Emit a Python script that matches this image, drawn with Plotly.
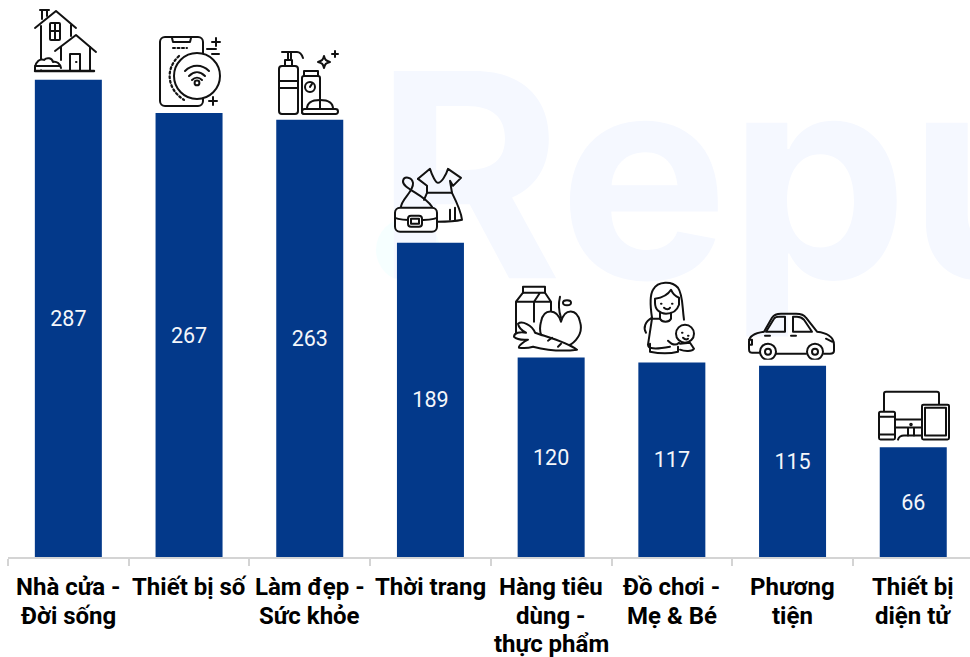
import base64
import plotly.graph_objects as go

categories = ["Nhà cửa -<br>Đời sống", "Thiết bị số", "Làm đẹp -<br>Sức khỏe", "Thời trang",
              "Hàng tiêu<br>dùng -<br>thực phẩm", "Đồ chơi -<br>Mẹ & Bé", "Phương<br>tiện", "Thiết bị<br>diện tử"]
values = [287, 267, 263, 189, 120, 117, 115, 66]

W, H = 970, 657
L, R_EDGE, BASE = 8, 970, 557.5
PX_PER_UNIT = 1.664
BAND = 120.7
LABEL_LINE = 28.5

# Decorative line icons, drawn in page-pixel space: (x0, y0, w, h, svg body)
ICONS = [
 (30, 6, 70, 70, '''
  <path d="M40 10h9M42 11v8M47 11v5"/>
  <path d="M35 28 56 11 76 28"/>
  <path d="M41 26V70M71 25V36"/>
  <rect x="50" y="23" width="10" height="17" rx="1"/><path d="M55 23V40M50 31H60"/>
  <path d="M55 51 76 35 96 52"/>
  <path d="M90 47V70M61 47V60"/>
  <path d="M70 70V54H80V70M76 62h.5"/>
  <path d="M35 70V67C36 62 40 58 44 60C47 57 52 58 53 62C57 61 60 64 61 68" fill="#fff"/>
  <path d="M35 66H60"/>
  <path d="M35 71H94" stroke-width="2.4"/>'''),
 (155, 33, 70, 76, '''
  <rect x="160" y="37" width="43" height="69" rx="5"/>
  <path d="M172 38 173 42H190L191 38"/>
  <path d="M173 48H187" stroke-dasharray="2 2.5"/>
  <path d="M179 56C164 70 168 90 184 100" stroke-dasharray="2 2.6" stroke-width="2.2"/>
  <circle cx="197" cy="76" r="23" fill="#fff"/>
  <path d="M185 71C192 64 202 64 209 71M189 76C194 71 200 71 205 76M192 80C195 77 199 77 202 80"/>
  <circle cx="197" cy="83" r="2.4"/>
  <path d="M216 38V46M212 42H220M207 49H216M212 54H219M213 97V105M209 101H217"/>'''),
 (275, 48, 66, 70, '''
  <path d="M282 52H297C300 52 302 55 303 58"/>
  <path d="M288 52V60H291V52M285 66V60H292V66"/>
  <rect x="279" y="66" width="19" height="48" rx="3"/>
  <path d="M279 81H298M279 88H298"/>
  <rect x="302" y="76" width="18" height="38" rx="2" fill="#fff"/>
  <path d="M304 76V71H318V76"/>
  <circle cx="310" cy="87" r="5"/><path d="M310 87 312 84"/>
  <path d="M307 109C307 102 313 100 320 100C328 100 333 103 333 109"/>
  <rect x="302" y="109" width="36" height="5" rx="2.5" fill="#fff"/>
  <path d="M324 56C325 60 326 61 330 62C326 63 325 64 324 68C323 64 322 63 318 62C322 61 323 60 324 56Z"/>
  <path d="M335 51V57M332 54H338"/>'''),
 (390, 163, 76, 76, '''
  <path d="M418 179 430 169C432 176 436 183 438 183C441 183 446 176 448 169L461 178 453 186 450 181 452 193"/>
  <path d="M418 179 427 186V193H452"/>
  <path d="M452 193C457 203 461 211 462 220C454 222 445 222 437 222"/>
  <path d="M427 193 424 200M450 210V220M455 208V220"/>
  <path d="M401 208C400 200 414 192 413 183C412 177 404 176 403 181C402 189 424 194 432 207"/>
  <rect x="395" y="208" width="42" height="24" rx="5" fill="#fff"/>
  <path d="M395 218C402 221 430 221 437 218"/>
  <rect x="408" y="216" width="14" height="11" rx="3" fill="#fff"/>
  <rect x="411" y="219" width="8" height="5"/>'''),
 (510, 283, 74, 70, '''
  <path d="M523 293V287H545V293"/>
  <path d="M523 293 516 302V334M545 293 551 302V318M540 293 534 302V322M516 302H551M523 293H545"/>
  <path d="M561 322C557 309 544 308 541 322C537 337 547 348 560 345C572 350 584 335 580 322C577 309 565 308 561 322Z" fill="#fff"/>
  <path d="M560 297C558 305 559 312 561 318"/>
  <ellipse cx="567" cy="303" rx="4" ry="2.5"/>
  <path d="M535 333C546 337 566 342 577 350C562 352 545 350 533 347" fill="#fff"/>
  <path d="M535 333C532 325 522 321 518 324C519 329 522 331 526 333C520 332 514 333 514 337C518 341 524 340 528 340C524 342 518 346 519 348C525 349 530 348 533 347" fill="#fff"/>
  <path d="M548 341 552 338M558 347 561 344"/>'''),
 (640, 280, 60, 78, '''
  <path d="M652 318C650 305 650 295 653 290C658 281 672 281 678 288C683 295 682 306 684 320"/>
  <path d="M655 299C662 298 668 295 671 290C673 295 676 297 679 298V305C677 311 672 314 666 314C660 314 655 310 655 303Z" fill="#fff"/>
  <path d="M661 304h.5M672 304h.5M664 308C666 310 669 310 670 308"/>
  <path d="M660 313V319C662 323 669 323 671 319V313"/>
  <path d="M652 318C645 322 643 328 646 333M660 319H652L648 345C648 349 654 350 670 347"/>
  <path d="M650 344V352C660 354 670 354 678 352V347"/>
  <circle cx="685" cy="334" r="9" fill="#fff"/>
  <path d="M682 333h.5M688 336h.5M683 338C685 340 687 340 688 339"/>
  <path d="M668 341C672 345 676 346 679 343M680 344 690 343 694 349C692 352 685 352 680 350"/>'''),
 (745, 310, 92, 50, '''
  <path d="M761 353H752C749 353 749 351 749 348V342C749 336 757 333 764 332L772 318C774 315 777 314 781 314H796C800 314 804 315 806 318L817 332C826 333 834 337 834 345V351C834 353 832 354 830 354H824M776 354H806"/>
  <path d="M766 332 774 319 C775 317 777 317 779 317H785V332ZM793 317H797C800 317 802 318 804 320L812 332H793Z"/>
  <path d="M765 336H770M791 336H796M749 340H752V345H749M826 339 832 342"/>
  <circle cx="768" cy="352" r="8" fill="#fff"/><circle cx="768" cy="352" r="3"/>
  <circle cx="815" cy="352" r="8" fill="#fff"/><circle cx="815" cy="352" r="3"/>'''),
 (875, 388, 78, 56, '''
  <path d="M884 411V394C884 393 885 392 886 392H937C938 392 939 393 939 394V405"/>
  <path d="M896 420H922M896 428H922M908 428V436M914 428V436"/>
  <path d="M898 440C899 437 901 436 904 436H922"/>
  <circle cx="911" cy="425" r=".8"/>
  <rect x="879" y="412" width="16" height="28" rx="1.5" fill="#fff"/>
  <path d="M879 417H895M879 435H895"/>
  <rect x="922" y="405" width="27" height="35" rx="1.5" fill="#fff"/>
  <rect x="925" y="408" width="21" height="28"/>'''),
]


def svg_uri(x0, y0, w, h, body):
    svg = (f'<svg xmlns="http://www.w3.org/2000/svg" width="{w*3}" height="{h*3}" '
           f'viewBox="{x0} {y0} {w} {h}"><g fill="none" stroke="#111" stroke-width="2" '
           f'stroke-linecap="round" stroke-linejoin="round">{body}</g></svg>')
    return "data:image/svg+xml;base64," + base64.b64encode(svg.encode("utf-8")).decode()


plot_w = R_EDGE - L
images = [dict(source=svg_uri(x0, y0, w, h, b), xref="paper", yref="paper",
               x=(x0 - L) / plot_w, y=1 - y0 / BASE, sizex=w / plot_w, sizey=h / BASE,
               xanchor="left", yanchor="top", sizing="stretch", layer="above")
          for x0, y0, w, h, b in ICONS]

# Category labels are placed one line at a time: the reference leading is tighter
# than the fixed 1.3em that a multi-line tick label would get.
label_annotations = [
    dict(text=line, xref="x", yref="paper", x=i, y=0, yanchor="top", xanchor="center",
         yshift=-(14 + LABEL_LINE * n), showarrow=False,
         font=dict(family="Roboto", size=24, color="#000000", weight=700))
    for i, cat in enumerate(categories)
    for n, line in enumerate(cat.split("<br>"))
]

fig = go.Figure(go.Bar(
    x=list(range(len(values))), y=values,
    width=67 / BAND,
    marker=dict(color="#03398A", line=dict(width=0)),
    text=[str(v) for v in values],
    textposition="inside", insidetextanchor="middle", textangle=0,
    textfont=dict(family="Roboto", size=21.5, color="#F4F6FA"),
    cliponaxis=False,
))

fig.update_layout(
    width=W, height=H,
    margin=dict(l=L, r=W - R_EDGE, t=0, b=H - BASE, pad=0, autoexpand=False),
    paper_bgcolor="white", plot_bgcolor="rgba(0,0,0,0)",
    showlegend=False,
    images=images,
    annotations=label_annotations,
    shapes=[
        dict(type="circle", xref="paper", yref="paper", layer="below",
             x0=(376 - L) / plot_w, x1=(440 - L) / plot_w,
             y0=1 - 282 / BASE, y1=1 - 218 / BASE,
             fillcolor="#F6FFFF", line=dict(width=0)),
        # Watermark: a shape label stays real text and sits beneath the bars
        dict(type="rect", xref="paper", yref="paper", layer="below",
             x0=(372 - L) / plot_w, x1=1, y0=1 - 321 / BASE, y1=1 - 11 / BASE,
             fillcolor="rgba(0,0,0,0)", line=dict(width=0),
             label=dict(text="Repu", textposition="middle left", padding=0,
                        font=dict(family="Inter", size=285, color="#F5F8FF", weight=700))),
    ],
    xaxis=dict(
        type="linear",
        range=[-0.5, -0.5 + plot_w / BAND],
        tickmode="array",
        tickvals=list(range(len(categories))),
        showticklabels=False,
        showgrid=False, zeroline=False,
        showline=True, linecolor="#D4D4D4", linewidth=2,
        ticks="",
        fixedrange=True, automargin=False,
    ),
    yaxis=dict(range=[0, BASE / PX_PER_UNIT], visible=False, fixedrange=True, automargin=False),
)
# Category boundary ticks: minor ticks sit between the labelled positions
fig.update_xaxes(minor=dict(tickmode="array", tickvals=[i - 0.5 for i in range(9)],
                            ticks="outside", ticklen=7, tickwidth=1.5, tickcolor="#D4D4D4",
                            showgrid=False))

fig.write_html("out.html", config=dict(displayModeBar=False), post_script=(
    "document.body.style.margin='0';document.body.style.overflow='hidden';"))
